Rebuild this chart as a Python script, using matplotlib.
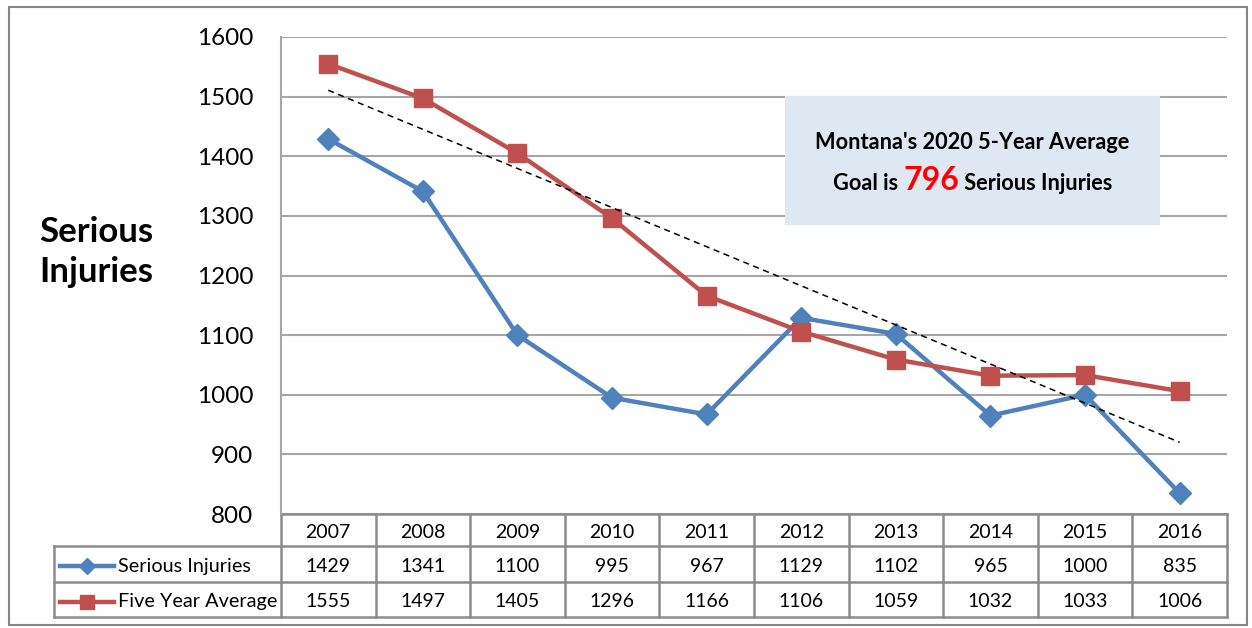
import numpy as np
import matplotlib.pyplot as plt
from matplotlib.patches import Rectangle
from matplotlib.lines import Line2D
from matplotlib.transforms import blended_transform_factory
from matplotlib.offsetbox import TextArea, HPacker, VPacker, AnchoredOffsetbox

years = [2007, 2008, 2009, 2010, 2011, 2012, 2013, 2014, 2015, 2016]
serious = [1429, 1341, 1100, 995, 967, 1129, 1102, 965, 1000, 835]
five_year = [1555, 1497, 1405, 1296, 1166, 1106, 1059, 1032, 1033, 1006]
yticks = [800, 900, 1000, 1100, 1200, 1300, 1400, 1500, 1600]
series_names = ["Serious Injuries", "Five Year Average"]
goal = 796

plt.rcParams['font.family'] = ['Lato', 'DejaVu Sans']

blue = '#4F81BD'
red = '#C0504D'
grid_c = '#A6A6A6'
cell_c = '#8C8C8C'

fig = plt.figure(figsize=(12.52, 6.28), dpi=100)
ax = fig.add_axes([0.2244, 0.1815, 0.7556, 0.7596])

x = np.arange(len(years))
ax.plot(x, serious, color=blue, lw=3.2, marker='D', ms=11, zorder=3)
ax.plot(x, five_year, color=red, lw=3.2, marker='s', ms=12.5, zorder=3)

# linear trend of the five year average
slope, icpt = np.polyfit(x, five_year, 1)
ax.plot(x, slope * x + icpt, color='black', lw=1.1, ls=(0, (4, 3)), zorder=4)

ax.set_xlim(-0.5, len(years) - 0.5)
ax.set_ylim(yticks[0], yticks[-1])
ax.set_yticks(yticks)
ax.set_xticks([])
ax.grid(axis='y', color=grid_c, lw=1.5)
ax.set_axisbelow(True)
for s in ['top', 'right', 'bottom']:
    ax.spines[s].set_visible(False)
ax.spines['left'].set_color(grid_c)
ax.spines['left'].set_linewidth(1.5)
ax.tick_params(axis='y', length=0, pad=20, labelsize=17.5)

# data table below the plot
tr = blended_transform_factory(ax.transData, ax.transAxes)
row_edges = [0, -0.0671, -0.1426, -0.2160]
leg_left = -2.9
kw = dict(color=cell_c, lw=1.8, transform=tr, clip_on=False)
ax.add_line(Line2D([-0.5, 9.5], [0, 0], **kw))
for yy in row_edges[1:]:
    ax.add_line(Line2D([leg_left, 9.5], [yy, yy], **kw))
for xx in np.arange(-0.5, 10, 1):
    ax.add_line(Line2D([xx, xx], [0, row_edges[-1]], **kw))
ax.add_line(Line2D([leg_left, leg_left], [row_edges[1], row_edges[-1]], **kw))

centers = [(row_edges[i] + row_edges[i + 1]) / 2 - 0.005 for i in range(3)]
for i, yr in enumerate(years):
    ax.text(i, centers[0], str(yr), transform=tr, ha='center', va='center', fontsize=14)
    ax.text(i, centers[1], str(serious[i]), transform=tr, ha='center', va='center', fontsize=14)
    ax.text(i, centers[2], str(five_year[i]), transform=tr, ha='center', va='center', fontsize=14)

for row, (name, col, mk, ms) in enumerate(zip(series_names, [blue, red], ['D', 's'], [8, 9.5])):
    cy = centers[row + 1]
    ax.add_line(Line2D([-2.84, -2.26], [cy, cy], color=col, lw=3.2, transform=tr, clip_on=False))
    ax.add_line(Line2D([-2.55], [cy], color=col, marker=mk, ms=ms, transform=tr, clip_on=False))
    ax.text(-2.22, cy, name, transform=tr, ha='left', va='center', fontsize=14.3)

# goal text box
ax.add_patch(Rectangle((0.533, 0.606), 0.396, 0.270, transform=ax.transAxes,
                       facecolor='#DFE7F2', edgecolor='none', zorder=2.5))
line1 = TextArea("Montana's 2020 5-Year Average",
                 textprops=dict(fontsize=15.7, fontweight='bold'))
line2 = HPacker(children=[
    TextArea("Goal is ", textprops=dict(fontsize=15.7, fontweight='bold')),
    TextArea(str(goal), textprops=dict(fontsize=23, fontweight='bold', color='#FF0000')),
    TextArea(" Serious Injuries", textprops=dict(fontsize=15.7, fontweight='bold')),
], align='baseline', pad=0, sep=0)
box = VPacker(children=[line1, line2], align='center', pad=0, sep=9)
anch = AnchoredOffsetbox(loc='center', child=box, frameon=False,
                         bbox_to_anchor=(0.731, 0.735), bbox_transform=ax.transAxes)
anch.zorder = 5
ax.add_artist(anch)

fig.text(96 / 1252, 1 - 252 / 628, "Serious\nInjuries", ha='center', va='center',
         fontsize=25, fontweight='bold', linespacing=1.3)

fig.patches.append(Rectangle((0.0072, 0.0048), 0.9888, 0.9841, transform=fig.transFigure,
                             fill=False, edgecolor='#868686', lw=1.5))

fig.savefig('out.png', dpi=100)
